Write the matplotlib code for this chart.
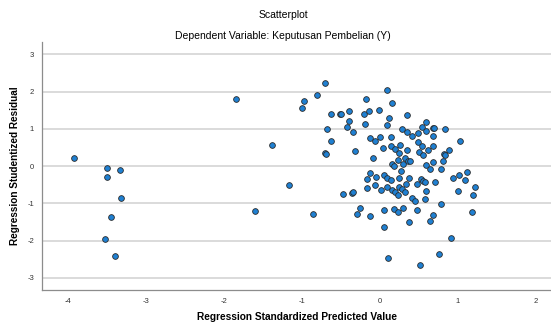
import matplotlib.pyplot as plt

plt.rcParams['font.family'] = ['Liberation Sans', 'DejaVu Sans']
plt.rcParams['axes.unicode_minus'] = False

# predicted value (x) and studentized residual (y)
pred = [
    -3.93, -3.50, -3.34, -3.50, -3.32, -3.45, -3.53, -3.40,
    -1.38, -1.17, -1.60, -1.84, -0.85,
    -1.00, -0.97, -0.81, -0.70, 0.09, -0.18, 0.16, -0.62, -0.51, -0.49,
    -0.40, -0.39, -0.20, -0.14, -0.01, 0.12, 0.35, -0.68, -0.42, -0.19,
    0.09, 0.60, 0.54, 0.69, 0.70, 0.84, 0.29, -0.34,
    0.35, 0.41, 0.49, 0.60, 0.68, 0.15, -0.62, -0.13, 0.00, -0.06,
    0.49, 0.54, 0.68, 1.03, 0.04, 0.15, 0.20, 0.26, 0.35, 0.62,
    0.51, 0.56, 0.89, 0.82, 0.84, -0.70, -0.69, -0.32, -0.08, 0.25,
    0.16, 0.19, 0.24, 0.33, 0.37, 0.39, 0.30, 0.59, 0.68, 0.81,
    -0.12, 0.06, 0.27, 0.65, 0.79, -0.16, -0.05, 0.10, 0.14, 0.25,
    0.38, 0.53, 0.56, 0.58, 0.71, 0.94, 1.02, 1.12, 1.10, 1.22,
    1.20, 1.01, 1.18, -0.16, -0.06, 0.02, 0.10, 0.16, 0.20, 0.24,
    0.25, 0.29, 0.33, 0.34, 0.48, 0.60, 0.42, 0.46, 0.58, 0.79,
    -0.47, -0.35, -0.34, -0.25, -0.29, -0.13, 0.06, 0.19, 0.23, 0.30,
    0.48, 0.69, 0.65, 0.38, 0.05, 0.92, 0.11, 0.76, 0.52,
]
resid = [
    0.21, -0.06, -0.11, -0.30, -0.86, -1.37, -1.96, -2.41,
    0.56, -0.51, -1.20, 1.80, -1.30,
    1.55, 1.74, 1.92, 2.23, 2.05, 1.81, 1.68, 1.39, 1.41, 1.39,
    1.47, 1.21, 1.39, 1.49, 1.50, 1.28, 1.37, 1.00, 1.05, 1.12,
    1.10, 1.18, 1.04, 1.03, 1.01, 1.00, 1.00, 0.91,
    0.90, 0.80, 0.88, 0.94, 0.80, 0.79, 0.67, 0.76, 0.79, 0.67,
    0.64, 0.55, 0.55, 0.67, 0.48, 0.55, 0.45, 0.57, 0.43, 0.43,
    0.38, 0.30, 0.44, 0.32, 0.29, 0.34, 0.32, 0.39, 0.22, 0.35,
    0.06, 0.01, 0.15, 0.21, 0.14, 0.13, 0.05, 0.03, 0.12, 0.13,
    -0.18, -0.24, -0.14, -0.08, -0.08, -0.35, -0.30, -0.32, -0.38, -0.33,
    -0.31, -0.34, -0.39, -0.43, -0.42, -0.33, -0.24, -0.17, -0.38, -0.57,
    -0.78, -0.68, -1.23, -0.60, -0.52, -0.65, -0.55, -0.65, -0.71, -0.78,
    -0.57, -0.63, -0.71, -0.49, -0.49, -0.68, -0.86, -0.93, -0.89, -1.01,
    -0.75, -0.73, -0.71, -1.13, -1.29, -1.34, -1.19, -1.16, -1.24, -1.12,
    -1.19, -1.32, -1.47, -1.49, -1.64, -1.94, -2.46, -2.36, -2.65,
]

xticks = [-4, -3, -2, -1, 0, 1, 2]
yticks = [-3, -2, -1, 0, 1, 2, 3]

fig = plt.figure(figsize=(5.51, 3.23), dpi=100)
ax = fig.add_axes([0.077, 0.102, 0.923, 0.768])

ax.scatter(pred, resid, s=17, color='#1f80d2', edgecolors='#2b2b2b',
           linewidths=0.6, zorder=3)

ax.set_xlim(-4.33, 2.2)
ax.set_ylim(-3.33, 3.33)
ax.set_xticks(xticks)
ax.set_yticks(yticks)
ax.tick_params(length=0, labelsize=5.5, labelcolor='#333333', pad=6)
ax.yaxis.grid(True, color='#d4d4d4', linewidth=1.2)
ax.set_axisbelow(True)
for side in ['top', 'right']:
    ax.spines[side].set_visible(False)
for side in ['left', 'bottom']:
    ax.spines[side].set_color('#8c8c8c')
    ax.spines[side].set_linewidth(0.9)

ax.set_xlabel('Regression Standardized Predicted Value', fontsize=7.3,
              fontweight='bold', labelpad=5)
ax.set_ylabel('Regression Studentized Residual', fontsize=7.2,
              fontweight='bold', labelpad=5)

fig.text(0.514, 0.955, 'Scatterplot', ha='center', va='center', fontsize=7.5)
fig.text(0.514, 0.89, 'Dependent Variable: Keputusan Pembelian (Y)',
         ha='center', va='center', fontsize=7.5)

fig.savefig('out.png', dpi=100)
